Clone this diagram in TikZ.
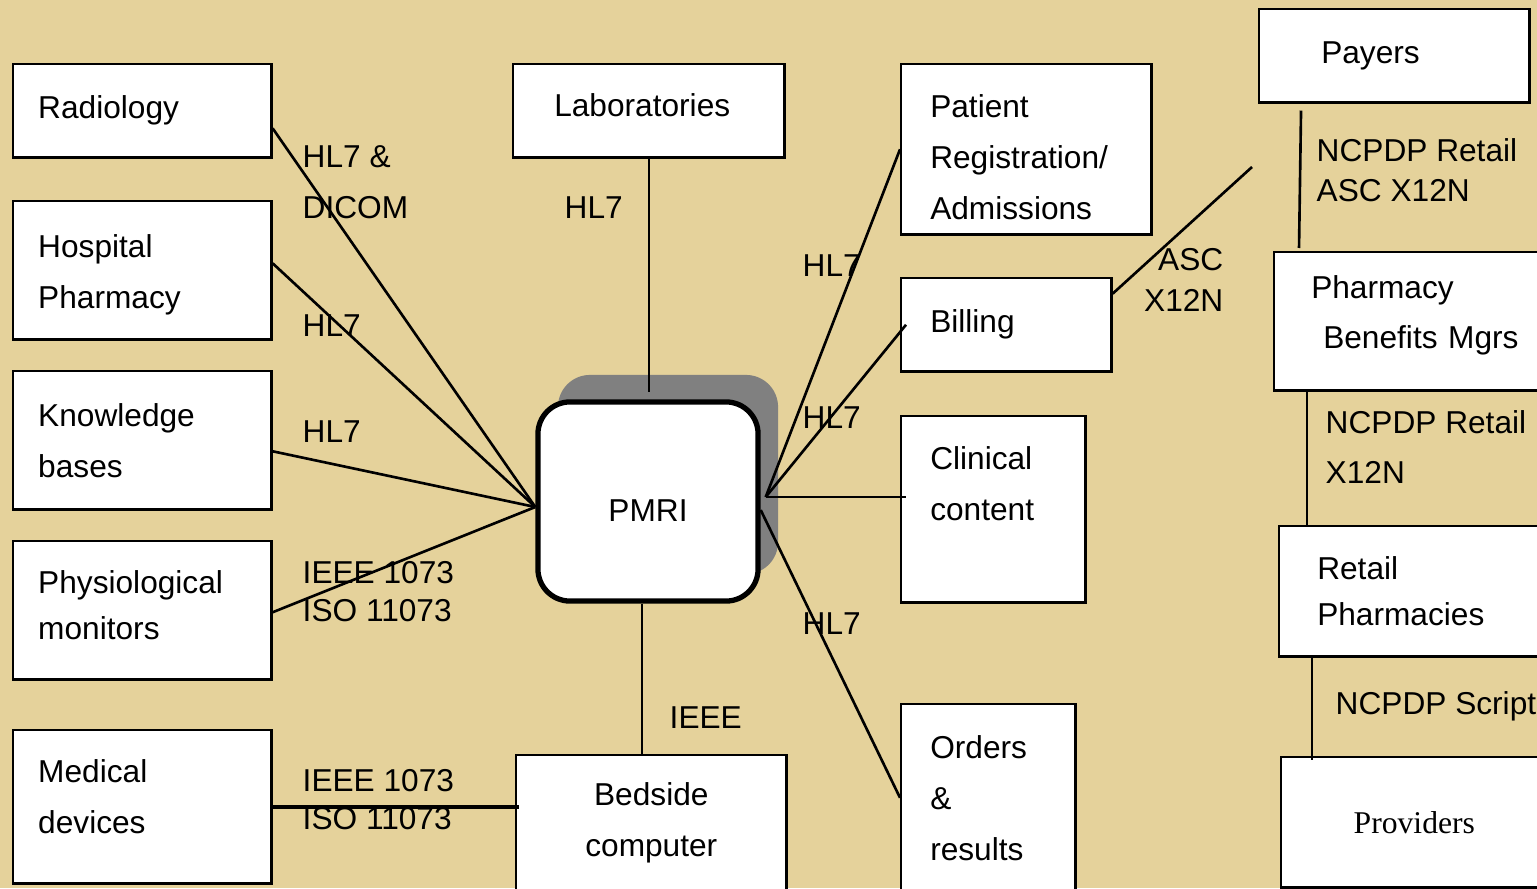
\documentclass[tikz,border=0pt]{standalone}
\usepackage{fontspec}
\setmainfont{Liberation Sans}
\newfontfamily\timesfont{Liberation Serif}
\usetikzlibrary{shadows}
\definecolor{bgtan}{RGB}{229,210,155}
\definecolor{shadowgray}{RGB}{128,128,128}

\begin{document}
\begin{tikzpicture}[
    x=0.01cm, y=-0.01cm,
    box/.style={rectangle, draw=black, fill=white, line width=0.7pt, anchor=north west, align=left, inner xsep=0.25cm},
    leftbox/.style={box, minimum width=2.58cm, text width=2.08cm},
    rightbox/.style={box, inner xsep=0.29cm},
    hub/.style={rectangle, rounded corners=0.32cm, draw=black, fill=white, line width=1.5pt, minimum width=2.2cm, minimum height=1.99cm, drop shadow={shadow xshift=0.2cm, shadow yshift=0.27cm, fill=shadowgray, opacity=1}},
    tight/.style={font=\fontsize{9}{13}\selectfont},
    link/.style={line width=0.75pt},
    lbl/.style={inner sep=0pt, anchor=west, align=left},
    every node/.style={font=\fontsize{9}{14.5}\selectfont}
]

% Background
\useasboundingbox (0,0) rectangle (1537,888);
\clip (0,0) rectangle (1537,888);
\fill[bgtan] (0,0) rectangle (1537,888);

% Left column
\node[leftbox, minimum height=0.93cm] (radiology) at (12,63) {Radiology};
\node[leftbox, minimum height=1.38cm, text height=0.33cm, text depth=0.58cm] (hosppharm) at (12,200) {Hospital\\Pharmacy};
\node[leftbox, minimum height=1.38cm] (knowledge) at (12,370) {Knowledge\\bases};
\node[leftbox, tight, minimum height=1.38cm, text height=0.23cm, text depth=0.56cm] (physio) at (12,540) {Physiological\\monitors};
\node[leftbox, minimum height=1.53cm, text height=0.23cm, text depth=0.71cm] (meddev) at (12,729) {Medical\\devices};

% Middle
\node[box, inner xsep=0.41cm, minimum width=2.71cm, minimum height=0.93cm, text width=1.89cm, text height=0.23cm, text depth=0.12cm] (labs) at (512,63) {Laboratories};
\node[hub, text height=0.39cm, text depth=0cm] (pmri) at (648,501.5) {PMRI};
\node[box, align=center, minimum width=2.70cm, minimum height=1.36cm, text width=2.20cm] (bedside) at (515,754) {Bedside\\computer};

% Right column
\node[rightbox, minimum width=2.50cm, minimum height=1.70cm, text width=1.92cm, text height=0.39cm, text depth=1.02cm] (patreg) at (900,63) {Patient\\Registration/\\Admissions};
\node[rightbox, minimum width=2.10cm, minimum height=0.93cm, text width=1.52cm] (billing) at (900,277) {Billing};
\node[rightbox, minimum width=1.84cm, minimum height=1.86cm, text width=1.26cm] (clinical) at (900,415) {Clinical\\content\\\mbox{}};
\node[rightbox, minimum width=1.74cm, minimum height=1.87cm, text width=1.16cm] (orders) at (900,703) {Orders\\\&\\results};

% Far right
\node[box, inner xsep=0.62cm, minimum width=2.70cm, minimum height=0.93cm, text width=1.46cm] (payers) at (1258,8) {Payers};
\node[box, inner xsep=0.37cm, minimum width=2.87cm, minimum height=1.38cm, text width=2.13cm, text height=0.23cm, text depth=0.69cm, font=\fontsize{9}{14.2}\selectfont] (pbm) at (1273,251) {Pharmacy\\\hspace*{0.12cm}Benefits Mgrs};
\node[box, tight, inner xsep=0.38cm, minimum width=2.82cm, minimum height=1.30cm, text width=2.06cm] (retail) at (1278,525) {Retail\\Pharmacies};
\node[box, align=center, minimum width=2.66cm, minimum height=1.30cm, text width=2.16cm, font=\timesfont\fontsize{9}{14.5}\selectfont] (providers) at (1280,756) {Providers};

% Connectors
\coordinate (hub-l) at ([yshift=-0.055cm]pmri.west);
\coordinate (hub-r) at ([xshift=0.05cm, yshift=0.045cm]pmri.east);
\coordinate (hub-b) at ([xshift=-0.06cm]pmri.south);
\coordinate (claims) at (1252,167);
\coordinate (pbm-r) at ([xshift=0.34cm]pbm.south west);
\coordinate (retail-p) at ([xshift=0.34cm]retail.south west);

\draw[link] ([yshift=-0.175cm]radiology.east) -- (hub-l);
\draw[link] ([yshift=0.07cm]hosppharm.east) -- (hub-l);
\draw[link] ([yshift=-0.11cm]knowledge.east) -- (hub-l);
\draw[link] ([yshift=-0.02cm]physio.east) -- (hub-l);
\draw[link, shorten >=0.07cm] (labs.south) -- (labs.south |- pmri.north);
\draw[link] (hub-b) -- (hub-b |- bedside.north);
\draw[link, line width=1.2pt, shorten >=-0.04cm] (meddev.east) -- (meddev.east -| bedside.west);

\draw[link] (hub-r) -- (patreg.west);
\draw[link] (hub-r) -- ([xshift=0.06cm]billing.west);
\draw[link, shorten >=-0.06cm] (hub-r) -- (hub-r -| clinical.west);
\draw[link] ([yshift=-0.085cm]pmri.east) -- (orders.west);
\draw[link] ([yshift=0.31cm]billing.east) -- (claims);

\draw[link] ([xshift=0.43cm, yshift=-0.07cm]payers.south west) -- ([xshift=0.26cm, yshift=0.03cm]pbm.north west);
\draw[link] (pbm-r) -- (pbm-r |- retail.north);
\draw[link, shorten >=-0.04cm] (retail-p) -- (retail-p |- providers.north);

% Labels
\node[lbl] (l-radio) at (302,182.5) {HL7 \&\\DICOM};
\node[lbl] (l-hosp) at (302,326) {HL7};
\node[lbl] (l-know) at (302,432) {HL7};
\node[lbl, font=\fontsize{9}{10.8}\selectfont] (l-physio) at (302,592) {IEEE 1073\\ISO 11073};
\node[lbl] (l-labs) at (564,208) {HL7};
\node[lbl] (l-bed) at (669,718) {IEEE};
\node[lbl, font=\fontsize{9}{10.8}\selectfont] (l-med) at (302,800) {IEEE 1073\\ISO 11073};
\node[lbl] (l-reg) at (802,266) {HL7};
\node[lbl] (l-bill) at (802,418) {HL7};
\node[lbl] (l-ord) at (802,624) {HL7};
\node[lbl, anchor=east, align=right, font=\fontsize{9}{11.9}\selectfont] (l-asc) at (1224,280) {ASC\\X12N};
\node[lbl, font=\fontsize{9}{11.4}\selectfont] (l-pay) at (1316,170) {NCPDP Retail\\ASC X12N};
\node[lbl, font=\fontsize{9}{14.2}\selectfont] (l-pbm) at (1325,447) {NCPDP Retail\\X12N};
\node[lbl] (l-script) at (1335,706) {NCPDP Script};

\end{tikzpicture}
\end{document}
